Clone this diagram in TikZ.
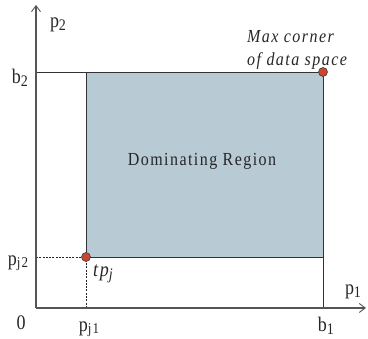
\documentclass[tikz,border=0pt]{standalone}
\usepackage{fontspec}
\setmainfont{Liberation Serif}[LetterSpace=9]
\usetikzlibrary{arrows.meta}
\definecolor{regfill}{HTML}{B8CBD5}
\definecolor{dotred}{HTML}{C9472F}
\definecolor{axisgray}{HTML}{555555}
\newcommand\vs[1]{\scalebox{1}[1.15]{#1}}
\newcommand\mysub[1]{\raisebox{-0.35ex}{\fontsize{14}{15}\selectfont #1}}
\newcommand\mysubs[1]{\raisebox{-0.25ex}{\fontsize{13}{15}\selectfont #1}}
\begin{document}
\begin{tikzpicture}[x=1pt,y=-1pt,
  lab/.style={font=\fontsize{18}{20}\selectfont, inner sep=0pt, text=black!85},
  axis/.style={draw=axisgray, line width=1.1pt, -{Straight Barb[length=6pt,width=9pt,line width=0.9pt]}},
  edge/.style={draw=black!80, line width=0.9pt},
  guide/.style={draw=black!85, line width=0.9pt, dash pattern=on 2pt off 1.3pt},
  dot/.style={circle, draw=black!75, fill=dotred, line width=0.6pt, minimum size=9pt, inner sep=0pt}]
\useasboundingbox (0,0) rectangle (368,339);
\coordinate (O) at (36,308);
\coordinate (Ytop) at (36,5);
\coordinate (Xend) at (366,308);
\coordinate (B2L) at (36,72);
\coordinate (MX) at (323,72);
\coordinate (B1B) at (323,308);
\coordinate (TP) at (86,257);
\coordinate (RBR) at (323,257);
\coordinate (PJ2) at (36,257);
\coordinate (PJ1) at (86,308);
\fill[regfill] (TP) rectangle (MX);
\draw[edge] (B2L) -- (MX) -- (B1B);
\draw[edge] (TP |- MX) -- (TP) -- (RBR);
\draw[guide] (PJ2) -- (TP) -- (PJ1);
\draw[axis] (O) -- (Ytop);
\draw[axis] (O) -- (Xend);
\node[dot] (tp) at (TP) {};
\node[dot] (mx) at (MX) {};
\node[lab] (lp2) at (58,25) {\vs{p\mysub{2}}};
\node[lab] (lb2) at (20,78) {\vs{b\mysub{2}}};
\node[lab] (lpj2) at (18,263) {\vs{p\mysubs{j2}}};
\node[lab] (l0) at (21,323) {\vs{0}};
\node[lab] (lpj1) at (89,329) {\vs{p\mysubs{j1}}};
\node[lab] (lb1) at (326,326) {\vs{b\mysub{1}}};
\node[lab] (lp1) at (353,292) {\vs{p\mysub{1}}};
\node[lab] (ltp) at (103,274) {\vs{\itshape tp\mysub{j}}};
\node[lab, font=\fontsize{16}{18}\selectfont] (dom) at (202,161) {\vs{Dominating Region}};
\node[lab, font=\fontsize{16}{18}\selectfont\itshape, anchor=west] (max1) at (247,37) {\vs{Max corner}};
\node[lab, font=\fontsize{16}{18}\selectfont\itshape, anchor=west] (max2) at (247,61) {\vs{of data space}};
\end{tikzpicture}
\end{document}
